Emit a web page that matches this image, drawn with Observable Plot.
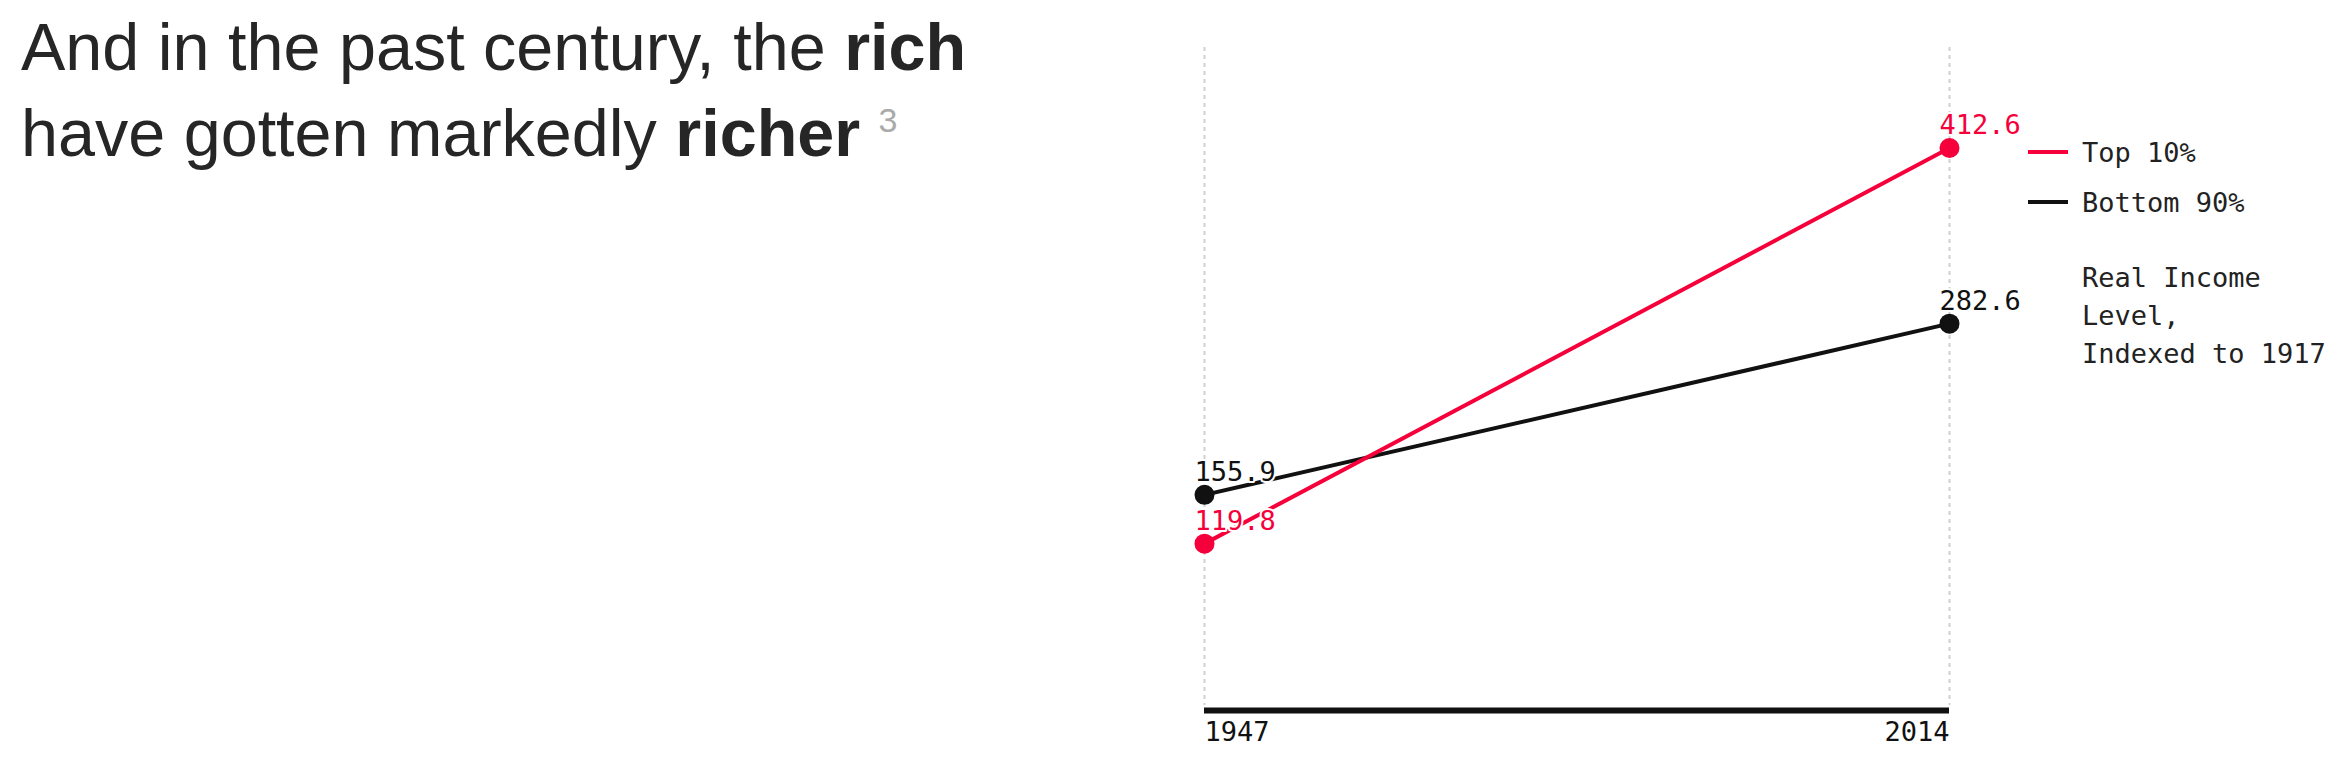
<!DOCTYPE html>
<html>
<head>
<meta charset="utf-8">
<script src="https://cdn.jsdelivr.net/npm/d3@7"></script>
<script src="https://cdn.jsdelivr.net/npm/@observablehq/plot@0.6"></script>
<style>
  html, body { margin: 0; padding: 0; background: #fff; }
  #wrap { position: relative; width: 2345px; height: 771px; overflow: hidden; }
  #title {
    position: absolute; left: 21px; top: 4px;
    font-family: "Liberation Sans", Arial, sans-serif;
    font-size: 66.5px; line-height: 86px; color: #262626; white-space: nowrap;
  }
  #title b { font-weight: 700; }
  #title .fn { font-size: 34px; line-height: 1; color: #aaa; position: relative; top: -24px; }
  #chart { position: absolute; left: 0; top: 0; }
  .leg { position: absolute; font-family: "DejaVu Sans Mono", monospace; font-size: 27px; color: #222; white-space: nowrap; }
  .leg-item { line-height: 27px; }
  .sw { position: absolute; width: 40px; height: 4px; }
  #desc { line-height: 38px; }
</style>
</head>
<body>
<div id="wrap">
  <div id="chart"></div>
  <div id="title">And in the past century, the <b>rich</b><br>have gotten markedly <b>richer</b> <span class="fn">3</span></div>
  <div id="legend"></div>
</div>
<script>
const years = [1947, 2014];
const seriesNames = ["Top 10%", "Bottom 90%"];
const seriesColors = ["#f5003b", "#111111"];
const top10 = [119.8, 412.6];
const bottom90 = [155.9, 282.6];
const labelLines = ["Real Income", "Level,", "Indexed to 1917"];

const rows = [];
years.forEach((yr, i) => {
  rows.push({year: yr, series: seriesNames[0], value: top10[i]});
  rows.push({year: yr, series: seriesNames[1], value: bottom90[i]});
});
const drawOrder = [seriesNames[1], seriesNames[0]];
const ordered = drawOrder.flatMap(s => rows.filter(r => r.series === s));

const mono = "DejaVu Sans Mono, monospace";
const chart = Plot.plot({
  width: 2345,
  height: 771,
  marginLeft: 1204,
  marginRight: 396,
  marginTop: 47,
  marginBottom: 66,
  style: {fontFamily: mono, background: "transparent"},
  x: {domain: [years[0], years[years.length - 1]], axis: null},
  y: {domain: [0, 487], axis: null},
  color: {domain: seriesNames, range: seriesColors},
  marks: [
    Plot.ruleX(years, {stroke: "#d2d2d2", strokeWidth: 2, strokeDasharray: "4,4"}),
    Plot.ruleY([0], {stroke: "#111", strokeWidth: 6, dy: 5}),
    Plot.line(ordered, {x: "year", y: "value", z: "series", stroke: "series", strokeWidth: 4}),
    Plot.dot(ordered, {x: "year", y: "value", fill: "series", r: 10}),
    Plot.text(ordered, {x: "year", y: "value", text: d => d.value.toFixed(1), fill: "series",
      textAnchor: "start", lineAnchor: "bottom", dx: -10, dy: -14, fontSize: 27,
      stroke: "white", strokeWidth: 4, paintOrder: "stroke"}),
    Plot.text([years[0]], {x: d => d, text: d => String(d), frameAnchor: "bottom", lineAnchor: "bottom",
      textAnchor: "start", dy: 35, fontSize: 27, fill: "#111"}),
    Plot.text([years[years.length - 1]], {x: d => d, text: d => String(d), frameAnchor: "bottom", lineAnchor: "bottom",
      textAnchor: "end", dy: 35, fontSize: 27, fill: "#111"})
  ]
});
document.getElementById("chart").appendChild(chart);

// Legend
const legend = document.getElementById("legend");
const itemTops = [139, 189];
seriesNames.forEach((name, i) => {
  const sw = document.createElement("div");
  sw.className = "sw";
  sw.style.left = "2028px";
  sw.style.top = (itemTops[i] + 11) + "px";
  sw.style.background = seriesColors[i];
  legend.appendChild(sw);
  const t = document.createElement("div");
  t.className = "leg leg-item";
  t.style.left = "2082px";
  t.style.top = itemTops[i] + "px";
  t.textContent = name;
  legend.appendChild(t);
});
const desc = document.createElement("div");
desc.className = "leg";
desc.id = "desc";
desc.style.left = "2082px";
desc.style.top = "259px";
desc.innerHTML = labelLines.join("<br>");
legend.appendChild(desc);
</script>
</body>
</html>
